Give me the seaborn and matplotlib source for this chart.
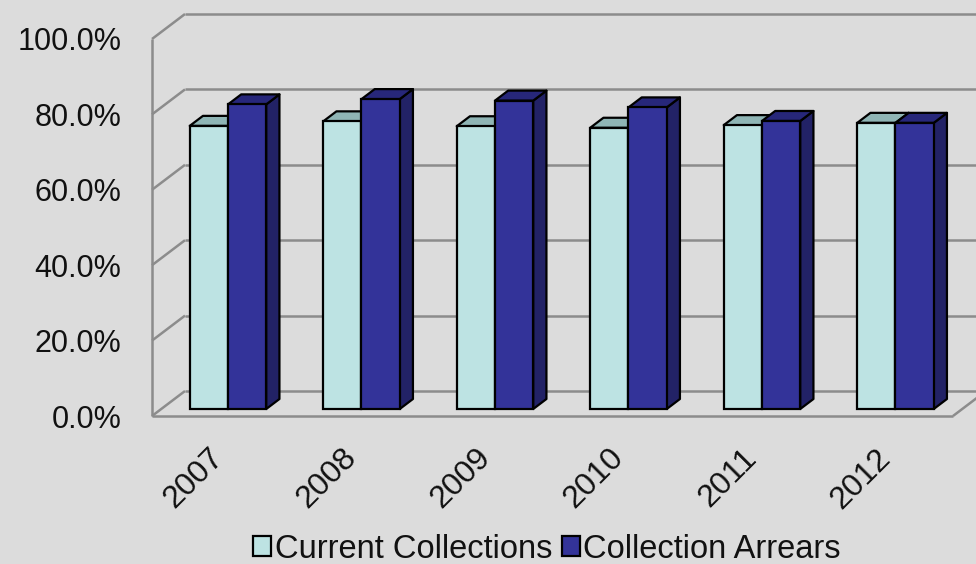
import matplotlib
matplotlib.use("Agg")
import matplotlib.pyplot as plt
from matplotlib.patches import Polygon, Patch
import seaborn as sns
import pandas as pd

# Collection rates (percent) by year
years = ["2007", "2008", "2009", "2010", "2011", "2012"]
current_collections = [75.1, 76.3, 75.0, 74.6, 75.3, 75.9]
collection_arrears = [80.8, 82.2, 81.8, 80.0, 76.4, 75.9]
series_names = ["Current Collections", "Collection Arrears"]
y_ticks = [0, 20, 40, 60, 80, 100]
y_tick_labels = ["0.0%", "20.0%", "40.0%", "60.0%", "80.0%", "100.0%"]

front_colors = ["#bde3e3", "#333399"]
top_colors = ["#8fb5b5", "#27277a"]
side_colors = ["#8fb5b5", "#222266"]
bg = "#dcdcdc"
grid_color = "#8c8c8c"

df = pd.DataFrame({
    "Year": years * 2,
    "Value": current_collections + collection_arrears,
    "Series": [series_names[0]] * len(years) + [series_names[1]] * len(years),
})

sns.set_style("white")
plt.rcParams["font.family"] = ["Liberation Sans", "DejaVu Sans"]

fig = plt.figure(figsize=(9.76, 5.64), dpi=100, facecolor=bg)
ax = fig.add_axes([152 / 976, (564 - 416) / 564, 801 / 976, 377 / 564])
ax.set_facecolor("none")

sns.barplot(data=df, x="Year", y="Value", hue="Series", hue_order=series_names,
            palette=front_colors, width=0.573, edgecolor="black", linewidth=1.6,
            saturation=1, legend=False, ax=ax, zorder=3)

ax.set_xlim(-0.5, 5.5)
ax.set_ylim(0, 100)

# oblique depth projection: one full depth unit in data coordinates
DX = 33 / (801 / 6)
DY = 25 / 3.77


def proj(x, y, d):
    return (x + d * DX, y + d * DY)


# walls and floor of the 3-D box
line_kw = dict(color=grid_color, lw=1.8, clip_on=False, zorder=1, solid_capstyle="butt")
for yv in y_ticks:
    p0, p1 = proj(-0.5, yv, 1), proj(6.5, yv, 1)
    ax.plot([p0[0], p1[0]], [p0[1], p1[1]], **line_kw)
    q0, q1 = proj(-0.5, yv, 0), proj(-0.5, yv, 1)
    ax.plot([q0[0], q1[0]], [q0[1], q1[1]], **line_kw)
ax.plot([-0.5, -0.5], [0, 100], **line_kw)
ax.plot([-0.5, 5.5], [0, 0], **line_kw)
r0, r1 = proj(5.5, 0, 0), proj(5.5, 0, 1)
ax.plot([r0[0], r1[0]], [r0[1], r1[1]], **line_kw)

# give each seaborn bar a depth: shift into the box, add top and side faces
bar_front = 0.28
bar_depth = 0.40
for k, container in enumerate(ax.containers):
    for rect in container:
        x0 = rect.get_x() + bar_front * DX
        w = rect.get_width()
        h = rect.get_height()
        y0 = bar_front * DY
        rect.set_x(x0)
        rect.set_y(y0)
        rect.set_zorder(3 + 2 * k + 1)
        ddx, ddy = bar_depth * DX, bar_depth * DY
        top = Polygon([(x0, y0 + h), (x0 + w, y0 + h), (x0 + w + ddx, y0 + h + ddy),
                       (x0 + ddx, y0 + h + ddy)], closed=True,
                      facecolor=top_colors[k], edgecolor="black", lw=1.6,
                      joinstyle="round", zorder=3 + 2 * k, clip_on=False)
        side = Polygon([(x0 + w, y0), (x0 + w + ddx, y0 + ddy), (x0 + w + ddx, y0 + h + ddy),
                        (x0 + w, y0 + h)], closed=True,
                       facecolor=side_colors[k], edgecolor="black", lw=1.6,
                       joinstyle="round", zorder=3 + 2 * k, clip_on=False)
        ax.add_patch(side)
        ax.add_patch(top)
        rect.set_clip_on(False)

for s in ax.spines.values():
    s.set_visible(False)

ax.set_yticks(y_ticks)
ax.set_yticklabels(y_tick_labels)
ax.set_xticks(range(len(years)))
ax.set_xticklabels(years, rotation=45, ha="right", va="center", rotation_mode="anchor")
ax.tick_params(axis="y", length=0, pad=22, labelsize=22, labelcolor="#111111")
ax.tick_params(axis="x", length=0, pad=27, labelsize=23, labelcolor="#111111")
ax.set_xlabel("")
ax.set_ylabel("")

handles = [Patch(facecolor=front_colors[i], edgecolor="black", lw=1.6) for i in range(2)]
fig.legend(handles, series_names, loc="center", bbox_to_anchor=(547 / 976, 1 - 549 / 564),
           ncol=2, frameon=False, fontsize=23.5, handlelength=0.55, handleheight=0.55,
           handletextpad=0.1, columnspacing=0.3, borderaxespad=0, borderpad=0,
           labelcolor="#111111")

fig.savefig("out.png", dpi=100, facecolor=bg)
